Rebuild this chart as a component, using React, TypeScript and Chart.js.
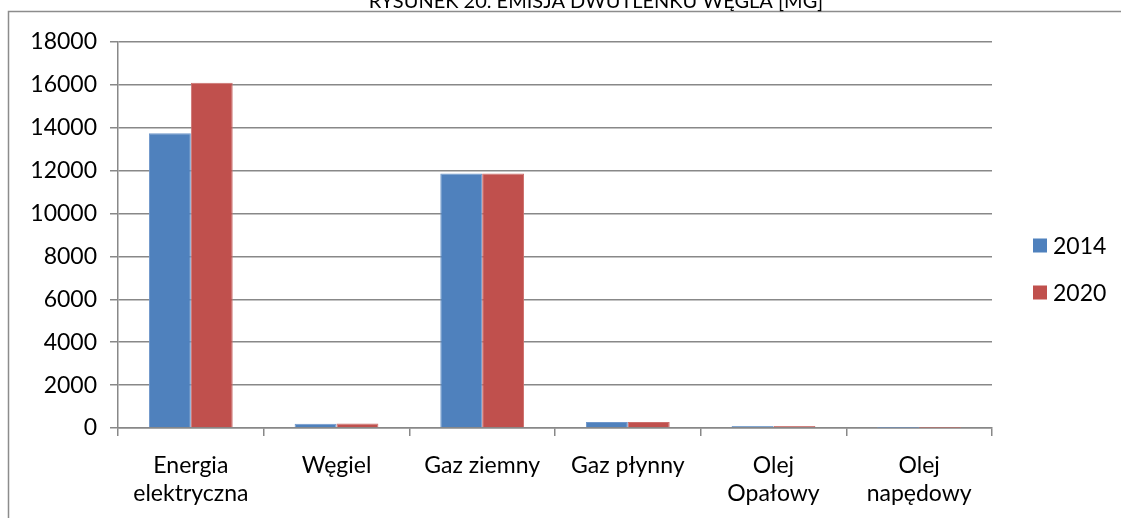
import React, { useEffect, useRef } from "react";
import { Chart, registerables } from "chart.js";

Chart.register(...registerables);

const titleText = "RYSUNEK 20. EMISJA DWUTLENKU WĘGLA [MG]";
const categories: string[][] = [
  ["Energia", "elektryczna"],
  ["Węgiel"],
  ["Gaz ziemny"],
  ["Gaz płynny"],
  ["Olej", "Opałowy"],
  ["Olej", "napędowy"],
];
const seriesNames = ["2014", "2020"];
const values2014 = [13750, 195, 11870, 275, 95, 5];
const values2020 = [16100, 205, 11870, 275, 90, 5];
const yTicks = [0, 2000, 4000, 6000, 8000, 10000, 12000, 14000, 16000, 18000];

const FONT = "Lato, 'Open Sans', sans-serif";
const GRID = "#888888";
const FS = 23;

const framePlugin = {
  id: "frameAndTitle",
  beforeDraw(chart: any) {
    const ctx = chart.ctx;
    ctx.save();
    ctx.strokeStyle = "#8c8c8c";
    ctx.lineWidth = 1.5;
    ctx.beginPath();
    ctx.moveTo(8.5, chart.height + 2);
    ctx.lineTo(8.5, 11.5);
    ctx.lineTo(chart.width + 2, 11.5);
    ctx.stroke();
    ctx.fillStyle = "#000";
    ctx.font = `20px ${FONT}`;
    ctx.textAlign = "center";
    ctx.textBaseline = "alphabetic";
    ctx.fillText(titleText, 596, 8);
    ctx.restore();
  },
  afterDraw(chart: any) {
    const ctx = chart.ctx;
    ctx.save();
    ctx.font = `${FS}px ${FONT}`;
    ctx.textAlign = "left";
    ctx.textBaseline = "middle";
    const ys = [245.5, 292.5];
    chart.data.datasets.forEach((ds: any, i: number) => {
      ctx.fillStyle = ds.backgroundColor;
      ctx.fillRect(1033, ys[i] - 7, 14, 14);
      ctx.fillStyle = "#000";
      ctx.fillText(ds.label, 1053, ys[i] + 1);
    });
    ctx.restore();
  },
};

export default function App() {
  const ref = useRef<HTMLCanvasElement | null>(null);
  useEffect(() => {
    if (!ref.current) return;
    const chart = new Chart(ref.current, {
      type: "bar",
      data: {
        labels: categories,
        datasets: [
          {
            label: seriesNames[0],
            data: values2014,
            backgroundColor: "#4F81BD",
            borderColor: "#6F97CB",
            borderWidth: 1,
          },
          {
            label: seriesNames[1],
            data: values2020,
            backgroundColor: "#C0504D",
            borderColor: "#CC6F6C",
            borderWidth: 1,
          },
        ],
      },
      options: {
        animation: false,
        responsive: false,
        maintainAspectRatio: false,
        layout: { padding: { left: 0, top: 42, right: 129, bottom: 0 } },
        datasets: { bar: { barPercentage: 1, categoryPercentage: 0.575 } },
        plugins: {
          legend: { display: false },
          title: { display: false },
          tooltip: { enabled: false },
        },
        scales: {
          x: {
            grid: {
              offset: true,
              drawOnChartArea: false,
              drawTicks: true,
              tickLength: 8,
              color: GRID,
              lineWidth: 1.5,
            },
            border: { display: true, color: GRID, width: 1.5 },
            ticks: {
              color: "#000",
              padding: 16,
              font: { family: FONT, size: FS, lineHeight: "28px" },
              maxRotation: 0,
              autoSkip: false,
            },
            afterFit(scale: any) {
              scale.height = 90;
            },
          },
          y: {
            min: 0,
            max: 18000,
            afterBuildTicks(scale: any) {
              scale.ticks = yTicks.map((v) => ({ value: v }));
            },
            grid: {
              drawTicks: true,
              tickLength: 8,
              color: GRID,
              lineWidth: 1.5,
            },
            border: { display: true, color: GRID, width: 1.5 },
            ticks: {
              color: "#000",
              padding: 13,
              font: { family: FONT, size: FS },
              callback: (v: any) => String(v),
            },
            afterFit(scale: any) {
              scale.width = 118;
            },
          },
        },
      },
      plugins: [framePlugin],
    });
    return () => chart.destroy();
  }, []);
  return (
    <div style={{ position: "fixed", left: 0, top: 0, width: 1121, height: 518, overflow: "hidden", background: "#fff" }}>
      <canvas ref={ref} width={1121} height={518} style={{ display: "block" }} />
    </div>
  );
}
